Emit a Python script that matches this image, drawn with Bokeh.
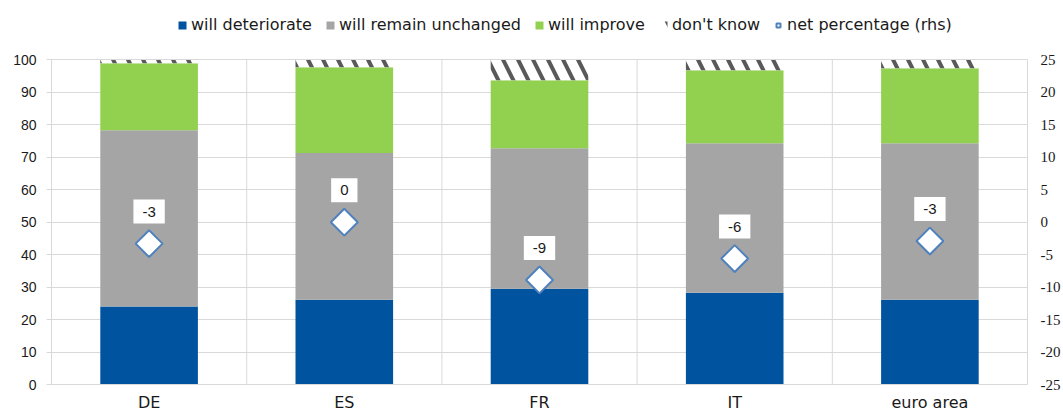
import numpy as np
from bokeh.plotting import figure
from bokeh.models import (ColumnDataSource, Range1d, LinearAxis, FixedTicker,
                          Legend, LegendItem)
from bokeh.core.properties import value
from bokeh.embed import file_html
from bokeh.resources import INLINE

# ---------------- data ----------------
categories = ["DE", "ES", "FR", "IT", "euro area"]
will_deteriorate = [24.0, 26.1, 29.5, 28.3, 26.1]
will_remain_unchanged = [54.3, 45.2, 43.3, 46.0, 48.2]
will_improve = [20.7, 26.4, 20.9, 22.5, 23.1]
dont_know = [1.0, 2.3, 6.3, 3.2, 2.6]
net_percentage = [-3.3, 0.0, -8.9, -5.6, -2.9]
left_ticks = list(range(0, 101, 10))
right_ticks = list(range(-25, 26, 5))

# ---------------- derived ----------------
n = len(categories)
x = np.arange(n) + 0.5
det = np.array(will_deteriorate)
unc = np.array(will_remain_unchanged)
imp = np.array(will_improve)
dk = np.array(dont_know)
b1 = det
b2 = b1 + unc
b3 = b2 + imp
b4 = b3 + dk
labels = [str(int(round(v))) for v in net_percentage]

src = ColumnDataSource(dict(x=x, b0=np.zeros(n), b1=b1, b2=b2, b3=b3, b4=b4,
                            net=net_percentage, lab=labels))
bounds = np.arange(1, n)
sep = ColumnDataSource(dict(x=bounds, y0=np.zeros(n - 1), y1=np.full(n - 1, 100.0)))

TEXT = "#1a1a1a"
GRID = "#d9d9d9"
SANS = "DejaVu Sans"

# frame extends to the top of the canvas so the legend (inside the frame) is visible;
# the 0-100 scale occupies the lower part of the frame
TOP = 118.3
p = figure(width=1063, height=414, x_range=Range1d(0, n), y_range=Range1d(0, TOP),
           output_backend="svg", toolbar_location=None,
           min_border_left=51, min_border_right=36, min_border_top=0, min_border_bottom=29)
p.extra_y_ranges = {"rhs": Range1d(-25, -25 + TOP / 2)}
p.outline_line_color = None
p.background_fill_color = "white"

p.segment(x0="x", y0="y0", x1="x", y1="y1", source=sep, line_color=GRID, line_width=1)

r1 = p.vbar(x="x", width=0.5, bottom="b0", top="b1", source=src,
            fill_color="#00539F", line_color=None)
r2 = p.vbar(x="x", width=0.5, bottom="b1", top="b2", source=src,
            fill_color="#A5A5A5", line_color=None)
r3 = p.vbar(x="x", width=0.5, bottom="b2", top="b3", source=src,
            fill_color="#92D050", line_color=None)
r4 = p.vbar(x="x", width=0.5, bottom="b3", top="b4", source=src,
            fill_color="white", line_color=None,
            hatch_pattern="\\", hatch_color="#595959", hatch_weight=4, hatch_scale=30)
r5 = p.scatter(x="x", y="net", y_range_name="rhs", source=src, marker="square",
               angle=np.pi / 4, size=19, fill_color="white",
               line_color="#4F81BD", line_width=2)

p.text(x="x", y="net", y_range_name="rhs", text="lab", source=src,
       text_align="center", text_baseline="middle", y_offset=-32,
       text_font=value("Liberation Sans"), text_font_size="15px", text_color=TEXT,
       background_fill_color="white", padding=(9, 7))

# grids
p.ygrid.ticker = FixedTicker(ticks=left_ticks)
p.ygrid.grid_line_color = GRID
p.xgrid.visible = False

# x axis
p.xaxis.ticker = FixedTicker(ticks=list(x))
p.xaxis.major_label_overrides = {float(xi): c for xi, c in zip(x, categories)}
p.xaxis.axis_line_color = GRID
p.xaxis.major_tick_line_color = None
p.xaxis.major_tick_out = 0
p.xaxis.major_tick_in = 0
p.xaxis.minor_tick_line_color = None
p.xaxis.major_label_text_font = SANS
p.xaxis.major_label_text_font_size = "16px"
p.xaxis.major_label_text_color = TEXT
p.xaxis.major_label_standoff = 8

# left axis
p.yaxis.ticker = FixedTicker(ticks=left_ticks)
p.yaxis.bounds = (0, 100)
p.yaxis.axis_line_color = GRID
p.yaxis.major_tick_line_color = GRID
p.yaxis.major_tick_out = 5
p.yaxis.major_tick_in = 0
p.yaxis.minor_tick_line_color = None
p.yaxis.major_label_text_font = "Liberation Sans"
p.yaxis.major_label_text_font_size = "14px"
p.yaxis.major_label_text_color = TEXT
p.yaxis.major_label_standoff = 10

# right axis (plain hyphen minus signs, as in the reference)
rax = LinearAxis(y_range_name="rhs", ticker=FixedTicker(ticks=right_ticks),
                 bounds=(-25, 25))
rax.major_label_overrides = {float(t): str(t) for t in right_ticks}
rax.axis_line_color = GRID
rax.major_tick_line_color = None
rax.major_tick_out = 0
rax.major_tick_in = 0
rax.minor_tick_line_color = None
rax.major_label_text_font = "Liberation Serif"
rax.major_label_text_font_size = "15px"
rax.major_label_text_color = TEXT
rax.major_label_standoff = 13
p.add_layout(rax, "right")

legend = Legend(items=[
    LegendItem(label="will deteriorate", renderers=[r1]),
    LegendItem(label="will remain unchanged", renderers=[r2]),
    LegendItem(label="will improve", renderers=[r3]),
    LegendItem(label="don't know", renderers=[r4]),
    LegendItem(label="net percentage (rhs)", renderers=[r5]),
], orientation="horizontal", location=(126, 350))
legend.label_text_font = SANS
legend.label_text_font_size = "16px"
legend.label_text_color = TEXT
legend.glyph_width = 10
legend.glyph_height = 10
legend.label_standoff = 4
legend.spacing = 13
legend.padding = 0
legend.margin = 0
legend.border_line_color = None
legend.background_fill_alpha = 0
p.add_layout(legend)

open("out.html", "w").write(file_html(p, INLINE))
